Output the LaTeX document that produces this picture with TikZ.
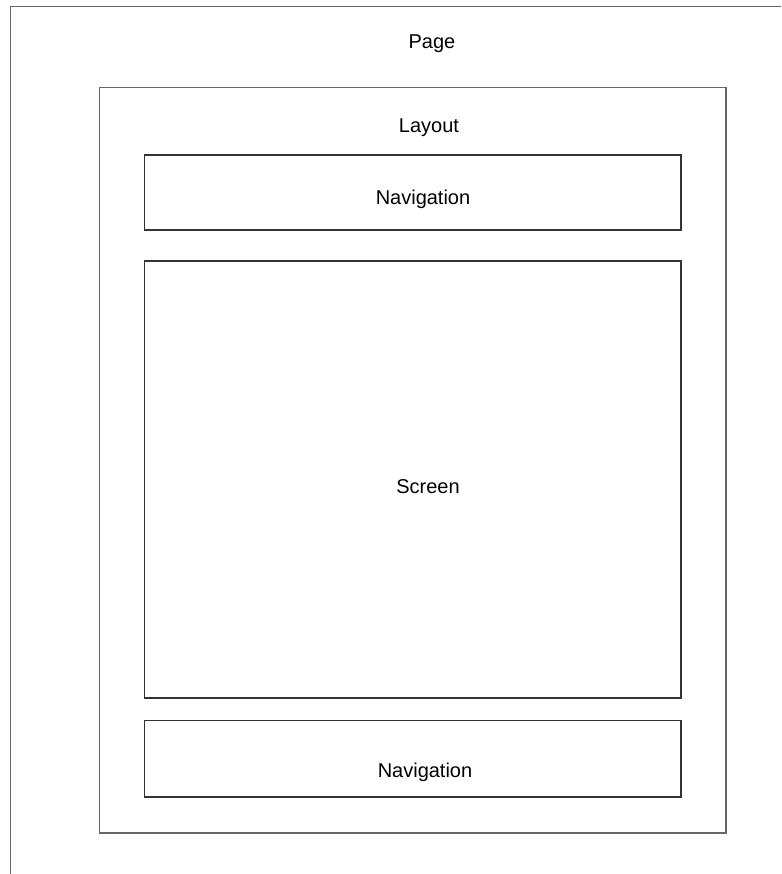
\documentclass[tikz,border=0pt]{standalone}
\usepackage{fontspec}
\setmainfont{Liberation Sans}
\begin{document}
\begin{tikzpicture}[x=1pt,y=-1pt,
  outerbox/.style={draw=black!60,line width=1.8pt,fill=none},
  innerbox/.style={draw=black!80,line width=1.2pt,fill=none},
  caption/.style={font=\fontsize{20}{24}\selectfont,anchor=base,inner sep=0pt}]
\useasboundingbox (0,0) rectangle (781,874);
\clip (0,0) rectangle (781,874);
\fill[white] (0,0) rectangle (781,874);
% page frame runs past the right and bottom edges
\draw[outerbox] (10.5,6.5) rectangle (820,920);
\coordinate (pageTL) at (10.5,6.5);
\node[caption] (pageLbl) at (432,49) {Page};
% layout frame
\draw[outerbox] (99.5,87.5) rectangle (726,833);
\coordinate (layoutTL) at (99.5,87.5);
\node[caption] (layoutLbl) at (429,133) {Layout};
% top navigation
\draw[innerbox] (144.5,155) rectangle (681,230);
\node[caption] (navTop) at (423,205) {Navigation};
% screen
\draw[innerbox] (144.5,261) rectangle (681,698);
\node[caption] (screen) at (428,493) {Screen};
% bottom navigation
\draw[innerbox] (144.5,720.5) rectangle (681,797);
\node[caption] (navBottom) at (425,777) {Navigation};
\end{tikzpicture}
\end{document}
